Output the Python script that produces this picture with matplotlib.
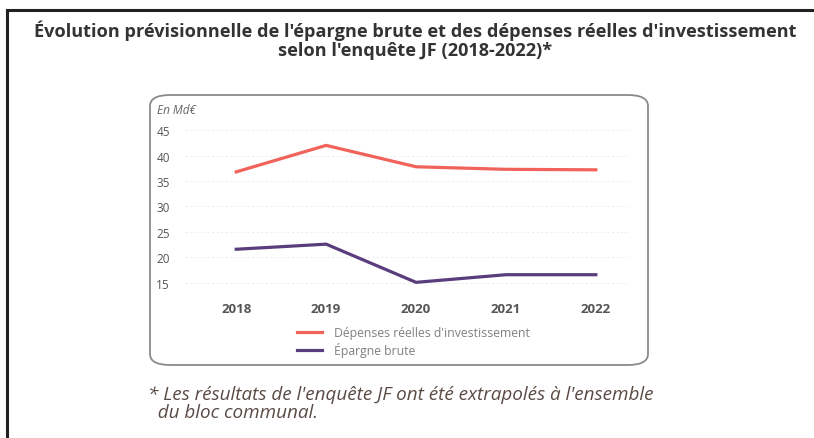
import matplotlib
matplotlib.use("Agg")
import matplotlib.pyplot as plt
from matplotlib.patches import FancyBboxPatch
from matplotlib.lines import Line2D

plt.rcParams['font.family'] = ['Open Sans', 'DejaVu Sans']

years = [2018, 2019, 2020, 2021, 2022]
depenses = [36.8, 42.0, 37.8, 37.3, 37.2]
epargne = [21.6, 22.6, 15.1, 16.6, 16.6]
y_ticks = [15, 20, 25, 30, 35, 40, 45]

label_dep = "Dépenses réelles d'investissement"
label_epa = "Épargne brute"
title = ("Évolution prévisionnelle de l'épargne brute et des dépenses réelles d'investissement\n"
         "selon l'enquête JF (2018-2022)*")
note = ("* Les résultats de l'enquête JF ont été extrapolés à l'ensemble\n"
        "  du bloc communal.")

W, H = 814, 439
fig = plt.figure(figsize=(W / 100, H / 100), dpi=100)

def fx(px):
    return px / W

def fy(py):
    return 1 - py / H

# outer frame (top and left edges only)
fig.add_artist(Line2D([fx(7), 1], [fy(11), fy(11)], color='#222222', lw=2.2))
fig.add_artist(Line2D([fx(7), fx(7)], [fy(11), 0], color='#222222', lw=2.2))

fig.text(fx(415), fy(40), title, ha='center', va='center', fontsize=13.1,
         fontweight='bold', color='#333333', linespacing=1.1)

# rounded inner box, behind the axes
box = FancyBboxPatch((fx(150), fy(366)), fx(498), fy(96) - fy(366),
                     boxstyle="round,pad=0,rounding_size=0.025",
                     transform=fig.transFigure, fc='white', ec='#8a8a8a', lw=1.3, zorder=-1)
fig.add_artist(box)

ax = fig.add_axes([fx(185), fy(292), fx(445), fy(125) - fy(292)])
ax.set_zorder(1)
ax.plot(years, depenses, color='#f0625a', lw=2.3, label=label_dep)
ax.plot(years, epargne, color='#5a3d7c', lw=2.3, label=label_epa)

ax.set_xlim(2017.43, 2022.38)
ax.set_ylim(13.4, 46.2)
ax.set_yticks(y_ticks)
ax.set_xticks(years)
ax.set_xticklabels([str(y) for y in years], fontweight='bold', fontsize=9.5, color='#555555')
ax.tick_params(axis='y', labelsize=8.5, labelcolor='#555555', length=0, pad=11)
ax.tick_params(axis='x', length=0, pad=8)
ax.grid(axis='y', color='#eeeeee', lw=0.8, ls=(0, (2, 2)))
for s in ax.spines.values():
    s.set_visible(False)
ax.set_facecolor('none')

fig.text(fx(157), fy(110), "En Md€", fontsize=8.5, style='italic', color='#666666', va='center')

ax.legend(loc='upper left', bbox_to_anchor=(fx(291), fy(321)), bbox_transform=fig.transFigure,
          frameon=False, fontsize=8.8, labelcolor='#808080', handlelength=2.0,
          handletextpad=1.0, labelspacing=0.25, borderpad=0)

fig.text(fx(148), fy(404), note, ha='left', va='center', fontsize=13.6, style='italic',
         color='#5a4a44', linespacing=1.05)

fig.savefig("out.png", dpi=100)
